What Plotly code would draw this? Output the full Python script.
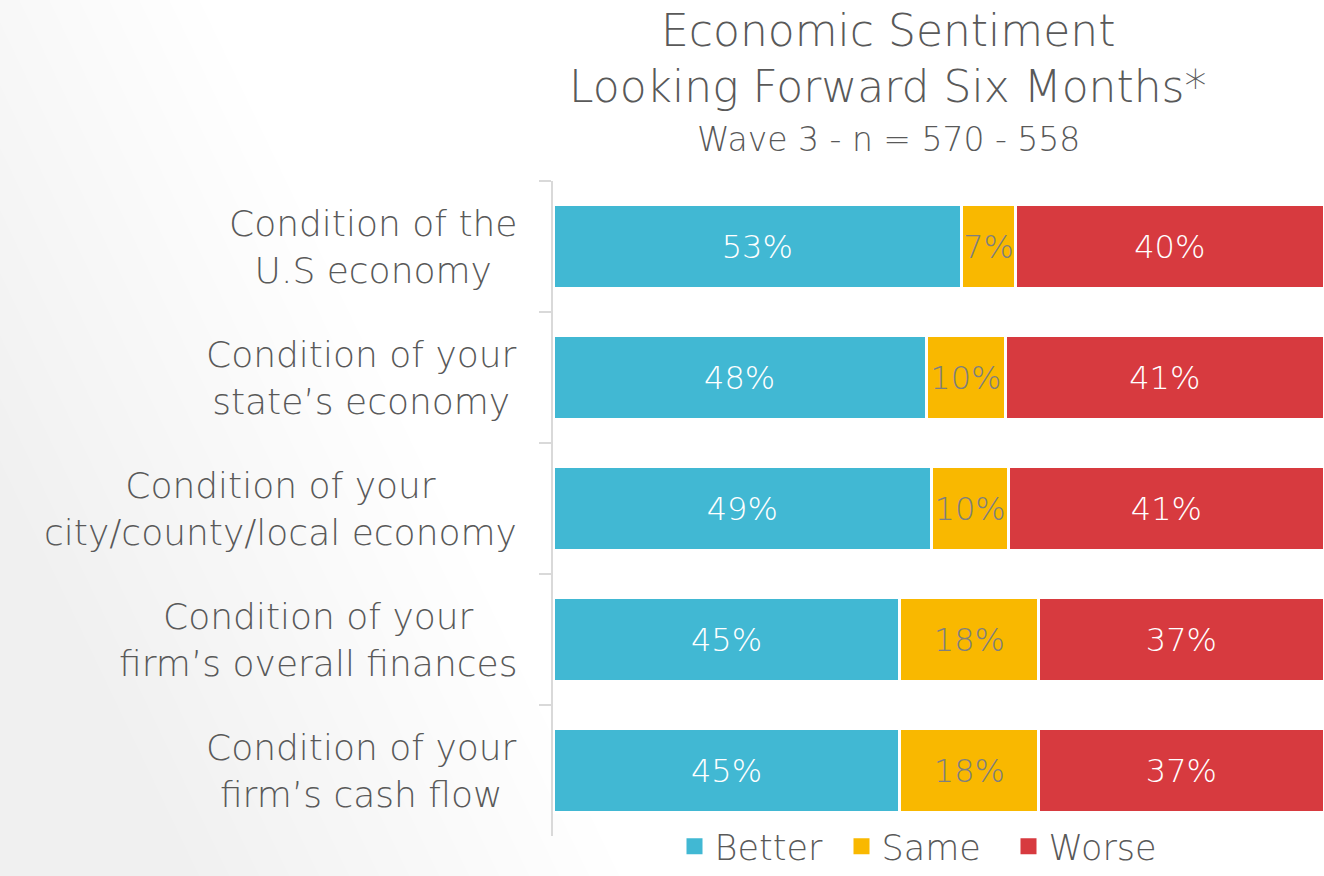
import plotly.graph_objects as go

categories = [
    "Condition of the<br>U.S economy",
    "Condition of your<br>state’s economy",
    "Condition of your<br>city/county/local economy",
    "Condition of your<br>firm’s overall finances",
    "Condition of your<br>firm’s cash flow",
]
better = [53.0, 48.4, 49.1, 45.0, 45.0]
same = [7.0, 10.3, 10.0, 18.0, 18.0]
worse = [40.0, 41.3, 40.9, 37.0, 37.0]

title_lines = ["Economic Sentiment", "Looking Forward Six Months*", "Wave 3 - n = 570 - 558"]

FONT = "DejaVu Sans"
WEIGHT = 200
GRAY = "#595959"

W, H = 1324, 876
ML, MR, MT, MB = 553, 0, 181, 40
PW = W - ML - MR
PH = H - MT - MB

def px_x(p):
    return (p - ML) / PW

def px_y(p):
    return 1 - (p - MT) / PH

fig = go.Figure()
series = [
    ("Better", better, "#41B8D3", "white"),
    ("Same", same, "#F9B800", "#7F7F7F"),
    ("Worse", worse, "#D73A3F", "white"),
]
for name, vals, col, tcol in series:
    fig.add_trace(go.Bar(
        name=name, y=categories, x=vals, orientation="h",
        marker=dict(color=col, line=dict(color="white", width=3)),
        texttemplate="%{x:.0f}%", textposition="inside", textangle=0,
        insidetextanchor="middle", constraintext="none",
        textfont=dict(family=FONT, size=32, color=tcol, weight=WEIGHT),
        hoverinfo="skip", showlegend=False,
    ))
for name, vals, col, tcol in series:
    fig.add_trace(go.Scatter(
        name=name, x=[None], y=[None], mode="markers",
        marker=dict(symbol="square", size=16, color=col),
        showlegend=True, hoverinfo="skip",
    ))

annotations = []
for c in categories:
    annotations.append(dict(
        x=px_x(519), xref="paper", y=c, yref="y", xanchor="right", yanchor="middle",
        text=c, showarrow=False, align="center",
        font=dict(family=FONT, size=36, color=GRAY, weight=WEIGHT),
    ))
annotations.append(dict(x=px_x(888), xref="paper", y=px_y(30), yref="paper",
                        text=title_lines[0], showarrow=False, xanchor="center", yanchor="middle",
                        font=dict(family=FONT, size=44, color=GRAY, weight=WEIGHT)))
annotations.append(dict(x=px_x(888), xref="paper", y=px_y(87), yref="paper",
                        text=title_lines[1], showarrow=False, xanchor="center", yanchor="middle",
                        font=dict(family=FONT, size=44, color=GRAY, weight=WEIGHT)))
annotations.append(dict(x=px_x(888), xref="paper", y=px_y(139), yref="paper",
                        text=title_lines[2], showarrow=False, xanchor="center", yanchor="middle",
                        font=dict(family=FONT, size=33, color=GRAY, weight=WEIGHT)))

# subtle diagonal background shading from the lower left
shapes = []
n = 15
for i in range(n):
    t = 200 - i * 30
    b = t + 420
    shapes.append(dict(type="path", xref="paper", yref="paper", layer="below",
                       path=f"M {px_x(-300)},{px_y(0)} L {px_x(t)},{px_y(0)} L {px_x(b)},{px_y(H)} L {px_x(-300)},{px_y(H)} Z",
                       fillcolor="rgba(0,0,0,0.0042)", line=dict(width=0)))

fig.update_layout(
    width=W, height=H, autosize=False,
    margin=dict(l=ML, r=MR, t=MT, b=MB, autoexpand=False),
    barmode="stack", bargap=0.366,
    paper_bgcolor="white", plot_bgcolor="rgba(0,0,0,0)",
    showlegend=True,
    legend=dict(orientation="h", x=px_x(925), xanchor="center", y=px_y(876), yanchor="bottom",
                traceorder="normal", entrywidth=122,
                font=dict(family=FONT, size=35, color=GRAY, weight=WEIGHT), bgcolor="rgba(0,0,0,0)"),
    xaxis=dict(range=[0, 100], visible=False, fixedrange=True),
    yaxis=dict(autorange="reversed", showticklabels=False, showline=True, linecolor="#D9D9D9",
               linewidth=2, ticks="outside", tickson="boundaries", ticklen=12, tickcolor="#D9D9D9",
               tickwidth=2, showgrid=False, zeroline=False, fixedrange=True),
    annotations=annotations,
    shapes=shapes,
)

post = "document.body.style.margin='0';document.body.style.overflow='hidden';"
fig.write_html("out.html", config={"displayModeBar": False, "responsive": False}, post_script=post)
